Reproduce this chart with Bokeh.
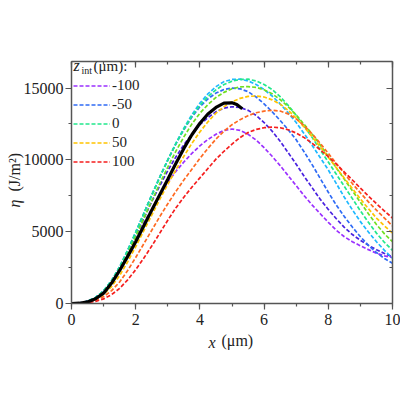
from bokeh.plotting import figure
from bokeh.models import (Range1d, LinearAxis, SingleIntervalTicker, Label,
                          Legend, LegendItem, CustomJSTickFormatter)
from bokeh.embed import file_html
from bokeh.resources import INLINE
import math

# Lateral position x (um) at which each profile is sampled
x_um = [0.0, 0.25, 0.5, 0.75, 1.0, 1.25, 1.5, 1.75, 2.0, 2.25, 2.5, 2.75,
        3.0, 3.25, 3.5, 3.75, 4.0, 4.25, 4.5, 4.75, 5.0, 5.25, 5.5, 5.75,
        6.0, 6.25, 6.5, 6.75, 7.0, 7.25, 7.5, 7.75, 8.0, 8.25, 8.5, 8.75,
        9.0, 9.25, 9.5, 9.75, 10.0]

# Fluence eta (J/m^2) for each interface depth z_int (um)
eta_m100 = [0, 30, 145, 400, 840, 1500, 2350, 3400, 4500, 5600, 6600, 7600,
            8450, 9200, 9850, 10450, 10980, 11420, 11780, 12050, 12150, 12050, 11780, 11380,
            10850, 10250, 9600, 8900, 8200, 7500, 6850, 6250, 5650, 5100, 4650, 4300,
            4020, 3750, 3500, 3320, 3200]
eta_m75 = [0, 30, 150, 410, 860, 1550, 2450, 3550, 4700, 5900, 7100, 8200,
           9250, 10200, 11050, 11800, 12450, 12950, 13350, 13600, 13700, 13650, 13450, 13100,
           12600, 12000, 11300, 10500, 9700, 8850, 8050, 7250, 6550, 5900, 5300, 4800,
           4400, 4050, 3750, 3480, 3250]
eta_m50 = [0, 30, 150, 420, 880, 1600, 2550, 3700, 4950, 6250, 7550, 8800,
           9980, 11100, 12100, 12980, 13700, 14250, 14650, 14900, 15000, 14950, 14750, 14380,
           13900, 13350, 12750, 12100, 11400, 10550, 9650, 8700, 7750, 6850, 6050, 5320,
           4650, 4050, 3550, 3130, 2800]
eta_m25 = [0, 30, 150, 420, 880, 1600, 2550, 3700, 4950, 6250, 7550, 8800,
           10000, 11150, 12200, 13150, 13950, 14600, 15100, 15450, 15600, 15620, 15500, 15250,
           14900, 14450, 13900, 13280, 12600, 11820, 11000, 10150, 9300, 8350, 7400, 6520,
           5700, 4980, 4300, 3700, 3150]
eta_0 = [0, 30, 150, 420, 880, 1600, 2550, 3700, 4950, 6250, 7550, 8800,
         10000, 11120, 12150, 13050, 13800, 14400, 14880, 15250, 15480, 15600, 15620, 15500,
         15250, 14900, 14400, 13800, 13100, 12350, 11550, 10700, 9850, 9000, 8150, 7300,
         6450, 5650, 4900, 4250, 3700]
eta_p25 = [0, 25, 125, 370, 790, 1450, 2350, 3450, 4650, 5900, 7150, 8350,
           9500, 10600, 11600, 12500, 13250, 13850, 14350, 14700, 14950, 15080, 15100, 15050,
           14880, 14600, 14200, 13700, 13120, 12470, 11780, 11030, 10250, 9450, 8650, 7850,
           7050, 6250, 5500, 4850, 4300]
eta_p50 = [0, 20, 95, 300, 640, 1180, 1950, 2900, 3950, 5050, 6150, 7250,
           8300, 9300, 10250, 11150, 11950, 12650, 13250, 13700, 14050, 14280, 14420, 14450,
           14380, 14180, 13880, 13450, 12900, 12280, 11600, 10900, 10180, 9450, 8720, 8000,
           7280, 6600, 5950, 5400, 4900]
eta_p75 = [0, 15, 65, 220, 480, 900, 1500, 2300, 3200, 4150, 5100, 6050,
           6950, 7800, 8600, 9350, 10100, 10800, 11450, 12000, 12450, 12800, 13080, 13280,
           13400, 13450, 13400, 13200, 12850, 12380, 11800, 11150, 10450, 9750, 9050, 8350,
           7700, 7080, 6500, 5950, 5400]
eta_p100 = [0, 10, 45, 150, 320, 620, 1050, 1650, 2350, 3150, 4000, 4900,
            5800, 6650, 7400, 8100, 8750, 9400, 10050, 10600, 11100, 11550, 11900, 12120,
            12240, 12280, 12240, 12100, 11870, 11550, 11150, 10700, 10220, 9700, 9150, 8600,
            8030, 7480, 6950, 6440, 5950]

# Reference (solid black) profile
x_ref = [0.0, 0.25, 0.5, 0.75, 1.0, 1.25, 1.5, 1.75, 2.0, 2.25, 2.5, 2.75,
         3.0, 3.25, 3.5, 3.75, 4.0, 4.25, 4.5, 4.75, 5.0, 5.15, 5.32]
eta_ref = [0, 20, 110, 330, 720, 1420, 2300, 3280, 4300, 5400, 6500, 7580,
           8650, 9750, 10800, 11750, 12550, 13200, 13650, 13950, 13970, 13850, 13560]

z_labels = ["-100", "-75", "-50", "-25", "0", "25", "50", "75", "100"]
series = [eta_m100, eta_m75, eta_m50, eta_m25, eta_0, eta_p25, eta_p50, eta_p75, eta_p100]
colors = ["#9B30FF", "#4A22E0", "#2F6BF5", "#1EB8FF", "#22E88C",
          "#70E020", "#FFC400", "#FF6A22", "#F51E1E"]
legend_keys = ["-100", "-50", "0", "50", "100"]

FONT = "'Liberation Serif'"
AX = "#555555"
TXT = "#222222"

p = figure(width=400, height=400, output_backend="svg", toolbar_location=None,
           x_range=Range1d(0, 10), y_range=Range1d(0, 16850),
           min_border_left=71, min_border_right=8, min_border_top=61,
           min_border_bottom=97)
p.xgrid.visible = False
p.ygrid.visible = False
p.outline_line_color = None
p.background_fill_color = "white"
p.border_fill_color = "white"


def style_axis(ax, interval, outward, labels):
    ax.ticker = SingleIntervalTicker(interval=interval, num_minor_ticks=2)
    ax.axis_line_color = AX
    ax.axis_line_width = 1.5
    ax.major_tick_line_color = AX
    ax.minor_tick_line_color = AX
    ax.major_tick_line_width = 1.2
    ax.minor_tick_line_width = 1.2
    if outward:
        ax.major_tick_out, ax.major_tick_in = 6, 0
        ax.minor_tick_out, ax.minor_tick_in = 3, 0
    else:
        ax.major_tick_out, ax.major_tick_in = 0, 6
        ax.minor_tick_out, ax.minor_tick_in = 0, 3
    if labels:
        ax.major_label_text_font = FONT
        ax.major_label_text_font_size = "16px"
        ax.major_label_text_color = TXT
    else:
        ax.formatter = CustomJSTickFormatter(code="return ''")
        ax.major_label_standoff = 0


style_axis(p.xaxis[0], 2, True, True)
p.xaxis[0].major_label_standoff = 4
style_axis(p.yaxis[0], 5000, True, True)
p.yaxis[0].major_label_standoff = 2

top = LinearAxis()
style_axis(top, 2, False, False)
p.add_layout(top, "above")
right = LinearAxis()
style_axis(right, 5000, False, False)
p.add_layout(right, "right")

renderers = {}
for lab, ys, col in zip(z_labels, series, colors):
    renderers[lab] = p.line(x_um, ys, line_color=col, line_width=1.7, line_dash="4 2")

p.line(x_ref, eta_ref, line_color="black", line_width=3.2)

legend = Legend(items=[LegendItem(label=k, renderers=[renderers[k]]) for k in legend_keys],
                location=(2, 132), orientation="vertical",
                glyph_width=37, glyph_height=19, label_height=19, spacing=0,
                padding=0, margin=0, label_standoff=2,
                label_text_font=FONT, label_text_font_size="15px",
                label_text_color=TXT,
                border_line_alpha=0, background_fill_alpha=0)
p.add_layout(legend)


def text_label(x, y, text, size, italic=False, angle=0.0, place="center"):
    lab = Label(x=x, y=y, x_units="screen", y_units="screen", text=text,
                text_font=FONT, text_font_size=size,
                text_font_style="italic" if italic else "normal",
                text_baseline="middle", angle=angle, text_color=TXT)
    if place == "center":
        p.add_layout(lab)
    else:
        p.add_layout(lab, place)


# legend heading: z_int (um):
text_label(2, 238, "z", "16px", italic=True)
text_label(10, 233, "int", "10px")
text_label(22, 238, "(μm):", "15px")

# axis titles, held in the side panels so they sit outside the frame
text_label(137, 2, "x", "16px", italic=True, place="below")
text_label(150, 21, "(μm)", "16px", place="below")
text_label(-57, 162, "η", "16px", italic=True, angle=math.pi / 2, place="below")
text_label(-57, -130, "(J/m²)", "16px", angle=math.pi / 2, place="above")

open("out.html", "w").write(file_html(p, INLINE))
